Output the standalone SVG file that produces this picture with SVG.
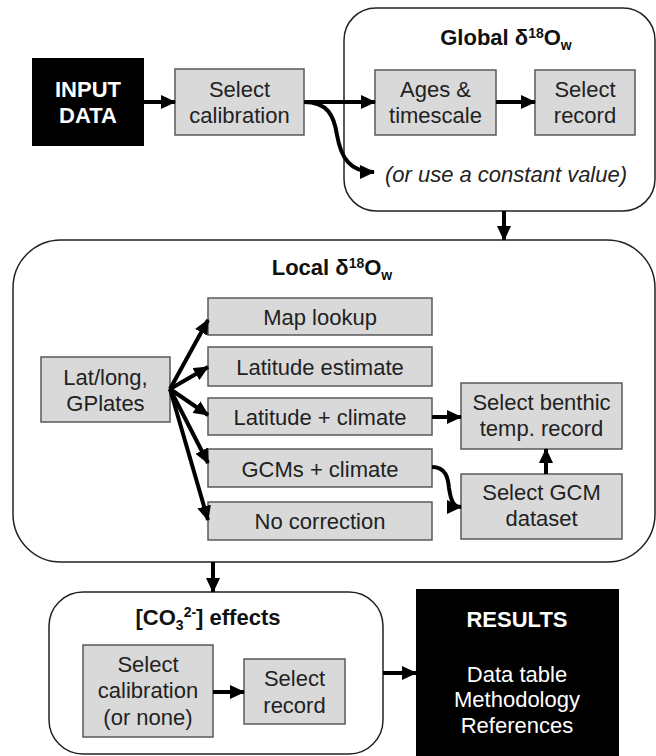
<svg xmlns="http://www.w3.org/2000/svg" width="656" height="756" viewBox="0 0 656 756">
<defs>
<marker id="ah" markerUnits="userSpaceOnUse" markerWidth="15" markerHeight="14" refX="14" refY="7" orient="auto">
<path d="M0,0 L15,7 L0,14 z" fill="#000"/>
</marker>
<style>
.t{font-family:"Liberation Sans",Arial,sans-serif;font-size:22px;fill:#222;text-anchor:middle}
.h{font-family:"Liberation Sans",Arial,sans-serif;font-size:22px;font-weight:bold;fill:#111;text-anchor:middle}
.w{font-family:"Liberation Sans",Arial,sans-serif;font-size:22px;fill:#fff;text-anchor:middle}
.wb{font-family:"Liberation Sans",Arial,sans-serif;font-size:22px;font-weight:bold;fill:#fff;text-anchor:middle}
.box{fill:#d9d9d9;stroke:#595959;stroke-width:1.5}
.blk{fill:#000}
.grp{fill:#fff;stroke:#222;stroke-width:1.5}
.c{fill:none;stroke:#000;stroke-width:4;marker-end:url(#ah)}
.s{font-size:14px}
</style>
</defs>
<rect width="656" height="756" fill="#fff"/>

<g id="global">
<rect class="grp" x="344" y="8" width="311" height="203" rx="32"/>
<text class="h" x="506" y="45">Global δ<tspan class="s" dy="-7">18</tspan><tspan dy="7">O</tspan><tspan class="s" dy="5">w</tspan></text>
<text class="t" x="506" y="182" font-style="italic">(or use a constant value)</text>
</g>
<g id="local">
<rect class="grp" x="13" y="240" width="642" height="322" rx="48"/>
<text class="h" x="332" y="275">Local δ<tspan class="s" dy="-7">18</tspan><tspan dy="7">O</tspan><tspan class="s" dy="5">w</tspan></text>
</g>
<g id="co3">
<rect class="grp" x="49" y="592" width="334" height="162" rx="34"/>
<text class="h" x="208" y="625">[CO<tspan class="s" dy="5">3</tspan><tspan class="s" dy="-13">2-</tspan><tspan dy="8">] effects</tspan></text>
</g>

<g id="input">
<rect class="blk" x="32" y="58" width="112" height="88"/>
<text class="wb" x="88" y="97">INPUT</text>
<text class="wb" x="88" y="123">DATA</text>
</g>
<g id="selcal">
<rect class="box" x="175" y="69" width="129" height="66"/>
<text class="t" x="239.5" y="97">Select</text>
<text class="t" x="239.5" y="123">calibration</text>
</g>
<g id="ages">
<rect class="box" x="375" y="70" width="121" height="65"/>
<text class="t" x="435.5" y="97">Ages &amp;</text>
<text class="t" x="435.5" y="123">timescale</text>
</g>
<g id="selrec">
<rect class="box" x="535" y="70" width="100" height="65"/>
<text class="t" x="585" y="97">Select</text>
<text class="t" x="585" y="123">record</text>
</g>

<g id="latlong">
<rect class="box" x="41" y="357" width="129" height="65"/>
<text class="t" x="105.5" y="385">Lat/long,</text>
<text class="t" x="105.5" y="411">GPlates</text>
</g>
<g id="maplookup">
<rect class="box" x="208" y="298" width="224" height="37"/>
<text class="t" x="320" y="325">Map lookup</text>
</g>
<g id="latest">
<rect class="box" x="208" y="347" width="224" height="39"/>
<text class="t" x="320" y="375">Latitude estimate</text>
</g>
<g id="latclim">
<rect class="box" x="208" y="398" width="224" height="37"/>
<text class="t" x="320" y="425">Latitude + climate</text>
</g>
<g id="gcmclim">
<rect class="box" x="208" y="449" width="224" height="38"/>
<text class="t" x="320" y="477">GCMs + climate</text>
</g>
<g id="nocorr">
<rect class="box" x="208" y="502" width="224" height="38"/>
<text class="t" x="320" y="529">No correction</text>
</g>
<g id="benthic">
<rect class="box" x="461" y="383" width="161" height="66"/>
<text class="t" x="541.5" y="410">Select benthic</text>
<text class="t" x="541.5" y="436">temp. record</text>
</g>
<g id="gcmdata">
<rect class="box" x="461" y="474" width="161" height="65"/>
<text class="t" x="541.5" y="500">Select GCM</text>
<text class="t" x="541.5" y="526">dataset</text>
</g>

<g id="co3cal">
<rect class="box" x="83" y="645" width="130" height="92"/>
<text class="t" x="148" y="672">Select</text>
<text class="t" x="148" y="698">calibration</text>
<text class="t" x="148" y="725">(or none)</text>
</g>
<g id="co3rec">
<rect class="box" x="244" y="659" width="101" height="65"/>
<text class="t" x="294.5" y="686">Select</text>
<text class="t" x="294.5" y="713">record</text>
</g>
<g id="results">
<rect class="blk" x="416" y="589" width="203" height="170"/>
<text class="wb" x="517" y="627">RESULTS</text>
<text class="w" x="517" y="682">Data table</text>
<text class="w" x="517" y="707">Methodology</text>
<text class="w" x="517" y="733">References</text>
</g>

<g id="connectors">
<path class="c" d="M144,102 L175,102"/>
<path class="c" d="M304,102 L375,102"/>
<path class="c" d="M304,102 C328,102 334,116 337,135 C341,158 350,172 374,172"/>
<path class="c" d="M496,102 L535,102"/>
<path class="c" d="M504,211 L504,240"/>
<path class="c" d="M170,389 L208,320"/>
<path class="c" d="M170,389 L208,367"/>
<path class="c" d="M170,389 L208,415"/>
<path class="c" d="M170,389 L208,463"/>
<path class="c" d="M170,389 L208,520"/>
<path class="c" d="M432,417 L461,417"/>
<path class="c" d="M546,474 L546,449"/>
<path class="c" d="M432,467 C446,467 448,478 449,488 C451,502 454,507 461,507"/>
<path class="c" d="M213,562 L213,592"/>
<path class="c" d="M213,692 L244,692"/>
<path class="c" d="M383,673 L416,673"/>
</g>
</svg>
